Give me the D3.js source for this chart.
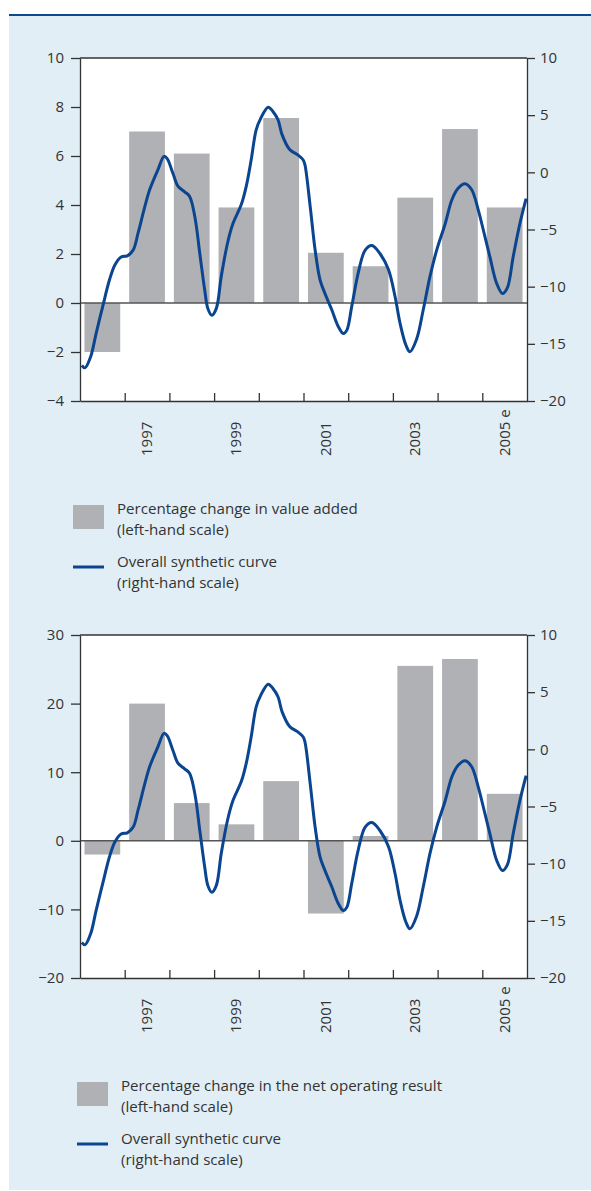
<!DOCTYPE html>
<head>
  <meta charset="utf-8">
  <script src="https://cdn.jsdelivr.net/npm/d3@7/dist/d3.min.js"></script>
  <style>
    body { margin:0; background:#fff; }
    text { font-family: "Open Sans", sans-serif; fill:#333; }
  </style>
</head>
<body>
  <script>
    // years on the x axis, one bar each
    var years = [1996, 1997, 1998, 1999, 2000, 2001, 2002, 2003, 2004, 2005];
    var labelYears = [1997, 1999, 2001, 2003, 2005];
    var tickLabels = ["1997", "1999", "2001", "2003", "2005 e"];

    // bars, left-hand scale
    var valueAdded = [-2.0, 7.0, 6.1, 3.9, 7.55, 2.05, 1.5, 4.3, 7.1, 3.9];
    var netOperating = [-2.0, 20.0, 5.5, 2.4, 8.7, -10.6, 0.7, 25.5, 26.5, 6.85];

    // overall synthetic curve, right-hand scale (same in both panels)
    var curveDates = [1996.04, 1996.11, 1996.24, 1996.36, 1996.51, 1996.66, 1996.78, 1996.92,
      1997.06, 1997.19, 1997.30, 1997.45, 1997.56, 1997.74, 1997.88, 1997.95,
      1998.08, 1998.19, 1998.34, 1998.45, 1998.57, 1998.68, 1998.79, 1998.86, 1998.95,
      1999.05, 1999.16, 1999.30, 1999.42, 1999.61, 1999.72, 1999.83, 1999.94,
      2000.04, 2000.21, 2000.32, 2000.43, 2000.52, 2000.69, 2000.88, 2000.99,
      2001.03, 2001.15, 2001.26, 2001.37, 2001.48, 2001.63, 2001.78, 2001.89, 2001.97,
      2002.08, 2002.23, 2002.38, 2002.53, 2002.71, 2002.90,
      2003.05, 2003.16, 2003.29, 2003.38, 2003.53, 2003.68, 2003.83, 2003.98,
      2004.17, 2004.32, 2004.46, 2004.61, 2004.76, 2004.91,
      2005.02, 2005.17, 2005.32, 2005.45, 2005.56, 2005.69, 2005.84, 2005.98];
    var curveValues = [-16.9, -17.1, -16.1, -14.1, -11.7, -9.4, -8.1, -7.4,
      -7.3, -6.8, -5.3, -3.0, -1.5, 0.2, 1.4, 1.2,
      -0.1, -1.2, -1.7, -2.1, -3.9, -7.1, -10.3, -11.9, -12.5,
      -11.9, -9.1, -6.2, -4.5, -2.8, -1.2, 1.1, 3.7,
      4.7, 5.7, 5.3, 4.6, 3.3, 2.0, 1.5, 1.1,
      0.7, -3.0, -6.8, -9.4, -10.6, -12.0, -13.5, -14.1, -13.8,
      -11.7, -8.7, -6.8, -6.4, -7.1, -8.5,
      -10.9, -13.2, -15.1, -15.7, -14.6, -12.0, -9.1, -6.8,
      -4.5, -2.4, -1.4, -1.0, -1.5, -3.3,
      -5.0, -7.4, -9.7, -10.6, -10.1, -7.4, -4.5, -2.3];

    var leftTicksTop = [-4, -2, 0, 2, 4, 6, 8, 10];
    var rightTicks = [-20, -15, -10, -5, 0, 5, 10];
    var leftTicksBottom = [-20, -10, 0, 10, 20, 30];

    var width = 591, height = 1191;
    var barColor = "#b0b1b4", lineColor = "#0b4590", axisColor = "#333";

    var svg = d3.select("body").append("svg")
      .attr("width", width)
      .attr("height", height);

    // light blue panel with dark rule on top
    svg.append("rect").attr("x", 9).attr("y", 16).attr("width", width - 9).attr("height", 1174)
      .attr("fill", "#e1eef6");
    svg.append("line").attr("x1", 9).attr("x2", width).attr("y1", 15).attr("y2", 15)
      .attr("stroke", "#0b4a8c").attr("stroke-width", 2);

    var curve = curveDates.map(function(d, i) { return { t: d, v: curveValues[i] }; });

    function drawPanel(top, leftDomain, leftTicks, bars, legendText) {
      var x0 = 80, x1 = 527, y0 = top, y1 = top + 343;
      var g = svg.append("g");

      var x = d3.scaleLinear().domain([1996, 2006]).range([x0, x1]);
      var band = d3.scaleBand().domain(years).range([x0, x1]).paddingInner(0.2).paddingOuter(0.1);
      var yL = d3.scaleLinear().domain(leftDomain).range([y1, y0]);
      var yR = d3.scaleLinear().domain([-20, 10]).range([y1, y0]);

      g.append("rect").attr("x", x0).attr("y", y0).attr("width", x1 - x0).attr("height", y1 - y0)
        .attr("fill", "#fff");

      g.selectAll(".bar").data(bars).enter().append("rect")
        .attr("class", "bar")
        .attr("x", function(d, i) { return band(years[i]); })
        .attr("width", band.bandwidth())
        .attr("y", function(d) { return yL(Math.max(0, d)); })
        .attr("height", function(d) { return Math.abs(yL(d) - yL(0)); })
        .attr("fill", barColor);

      // zero line
      g.append("line").attr("x1", x0).attr("x2", x1).attr("y1", yL(0)).attr("y2", yL(0))
        .attr("stroke", "#555").attr("stroke-width", 1.5);

      var line = d3.line()
        .x(function(d) { return x(d.t); })
        .y(function(d) { return yR(d.v); })
        .curve(d3.curveCatmullRom);
      g.append("path").datum(curve).attr("d", line)
        .attr("fill", "none").attr("stroke", lineColor).attr("stroke-width", 3)
        .attr("stroke-linejoin", "round");

      // frame top
      g.append("line").attr("x1", x0).attr("x2", x1).attr("y1", y0).attr("y2", y0)
        .attr("stroke", axisColor).attr("stroke-width", 1.3);

      var left = g.append("g").attr("transform", "translate(" + x0 + ",0)")
        .call(d3.axisLeft(yL).tickValues(leftTicks).tickSize(9).tickPadding(7).tickSizeOuter(0));
      var right = g.append("g").attr("transform", "translate(" + x1 + ",0)")
        .call(d3.axisRight(yR).tickValues(rightTicks).tickSize(8).tickPadding(5).tickSizeOuter(0));
      var bottom = g.append("g").attr("transform", "translate(0," + y1 + ")")
        .call(d3.axisBottom(x).tickValues(d3.range(1997, 2006)).tickSize(-8).tickFormat("").tickSizeOuter(0));

      [left, right, bottom].forEach(function(a) {
        a.selectAll("path, line").attr("stroke", axisColor).attr("stroke-width", 1.3);
        a.selectAll("text").attr("font-size", 15).attr("fill", "#333")
          .attr("font-family", "'Open Sans', sans-serif");
      });

      // rotated year labels
      g.selectAll(".yl").data(labelYears).enter().append("text")
        .attr("class", "yl")
        .attr("transform", function(d) {
          return "translate(" + (band(d) + band.bandwidth() / 2 + 5) + "," + (y1 + 55) + ") rotate(-90)";
        })
        .attr("font-size", 15)
        .text(function(d, i) { return tickLabels[i]; });

      // legend
      var ly = y1 + 104;
      g.append("rect").attr("x", legendText.x).attr("y", ly).attr("width", 31).attr("height", 24)
        .attr("fill", barColor);
      g.append("line").attr("x1", legendText.x).attr("x2", legendText.x + 31)
        .attr("y1", ly + 62).attr("y2", ly + 62)
        .attr("stroke", lineColor).attr("stroke-width", 3);
      var lines = [legendText.bar, "(left-hand scale)", "Overall synthetic curve", "(right-hand scale)"];
      var base = [ly + 9, ly + 30, ly + 62, ly + 83];
      lines.forEach(function(t, i) {
        g.append("text").attr("x", legendText.x + 44).attr("y", base[i])
          .attr("font-size", 15.1).text(t);
      });
    }

    drawPanel(58, [-4, 10], leftTicksTop, valueAdded,
      { x: 73, bar: "Percentage change in value added" });
    drawPanel(635, [-20, 30], leftTicksBottom, netOperating,
      { x: 77, bar: "Percentage change in the net operating result" });
  </script>
</body>
